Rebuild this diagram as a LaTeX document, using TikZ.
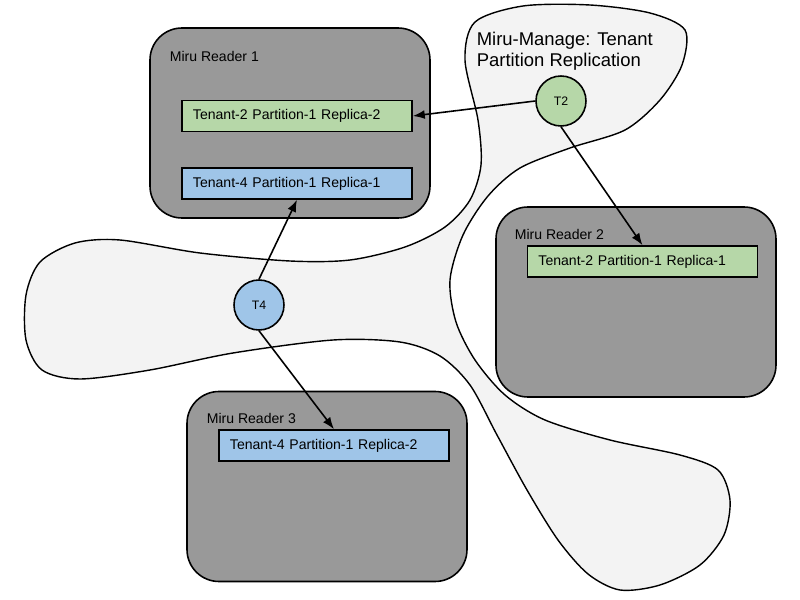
\documentclass[tikz,border=0pt]{standalone}
\usepackage{fontspec}
\setmainfont{Liberation Sans}
\usetikzlibrary{arrows.meta, positioning}
\definecolor{rdgray}{HTML}{999999}
\definecolor{tgreen}{HTML}{B6D7A8}
\definecolor{tblue}{HTML}{9FC5E8}
\definecolor{blobfill}{HTML}{F3F3F3}

\begin{document}
\begin{tikzpicture}[x=0.2mm, y=-0.2mm, >={Latex[length=2.4mm, width=1.8mm]}, line width=0.9pt,
  reader/.style={draw=black, fill=rdgray, rounded corners=6.4mm, minimum width=56mm, minimum height=38mm},
  replica/.style={draw=black, minimum width=46mm, minimum height=6.2mm, inner xsep=2.2mm, text width=41.6mm, align=left, font=\fontsize{8}{9.6}\selectfont},
  tnode/.style={circle, draw=black, minimum size=10mm, inner sep=0pt, font=\fontsize{7}{8}\selectfont},
  rlabel/.style={anchor=west, inner sep=0pt, font=\fontsize{8}{9.6}\selectfont},
  blob/.style={draw=black, fill=blobfill, line width=0.8pt}]

\useasboundingbox (0,0) rectangle (800,600);

% Manage region
\draw[blob] plot[smooth cycle] coordinates {
  (465,60) (475,22) (523,6) (590,5) (650,13) (685,30) (682,65) (660,100)
  (625,130) (570,148) (520,168) (488,196) (463,235) (450,280) (456,322)
  (475,360) (505,395) (545,420) (610,440) (680,455) (718,470) (730,500)
  (724,535) (700,565) (660,585) (620,590) (588,574) (558,540) (527,490)
  (497,435) (470,385) (440,356) (400,342) (333,340) (233,353) (150,370)
  (80,379) (42,370) (26,340) (26,295) (40,262) (75,243) (120,240)
  (200,253) (290,261) (350,260) (405,247) (445,227) (470,200) (481,165)
  (478,120)};
\node[anchor=north west, inner sep=0pt, align=left, font=\fontsize{10.5}{12}\selectfont] (mtitle) at (476,31) {Miru-Manage: Tenant\\Partition Replication};

% Readers
\node[reader] (reader1) at (290,123) {};
\node[reader] (reader2) at (636,302) {};
\node[reader] (reader3) at (327,486.5) {};
\node[rlabel] (lbl1) at (169,56) {Miru Reader 1};
\node[rlabel] (lbl2) at (514,234) {Miru Reader 2};
\node[rlabel] (lbl3) at (206,418) {Miru Reader 3};

% Replicas
\node[replica, fill=tgreen] (g12) at (297,116) {Tenant-2 Partition-1 Replica-2};
\node[replica, fill=tblue] (b11) at (297,183.5) {Tenant-4 Partition-1 Replica-1};
\node[replica, fill=tgreen] (g21) at (642.5,261.5) {Tenant-2 Partition-1 Replica-1};
\node[replica, fill=tblue] (b32) at (334,445.5) {Tenant-4 Partition-1 Replica-2};

% Tenants
\node[tnode, fill=tgreen] (t2) at (561,101) {T2};
\node[tnode, fill=tblue] (t4) at (259,305) {T4};

\draw[->] (t2.west) -- (g12.east);
\draw[->] (t2.south) -- (g21.north);
\draw[->] (t4.north) -- (b11.south);
\draw[->] (t4.south) -- (b32.north);

\end{tikzpicture}
\end{document}
